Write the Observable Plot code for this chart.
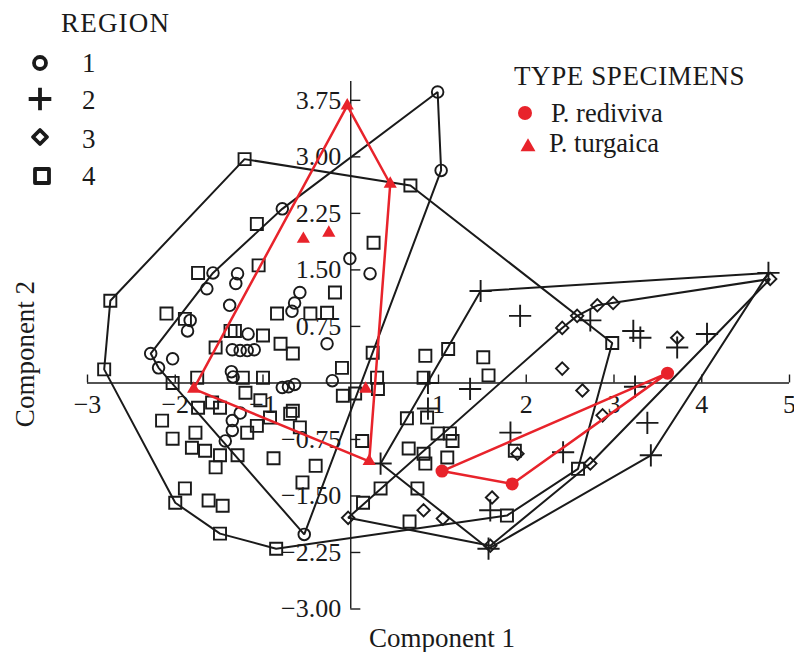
<!DOCTYPE html>
<html><head><meta charset="utf-8">
<script src="https://cdn.jsdelivr.net/npm/d3@7"></script>
<script src="https://cdn.jsdelivr.net/npm/@observablehq/plot@0.6"></script>
<style>
html,body{margin:0;padding:0;background:#fff;}
#wrap{position:relative;width:794px;height:652px;}
#overlay{position:absolute;left:0;top:0;pointer-events:none;}
</style></head><body>
<div id="wrap"></div>
<script>
// ---- data (Component 1, Component 2) ----
const region1 = [[0.99,3.86],[1.03,2.82],[-0.78,2.31],[-1.57,1.46],[-1.64,1.25],[-1.29,1.45],[-1.31,1.32],[-1.38,1.03],[-1.83,0.83],[-1.86,0.69],[-2.28,0.39],[-2.19,0.20],[-2.03,0.32],[-1.35,0.44],[-1.26,0.43],[-1.18,0.43],[-1.10,0.44],[-1.17,0.65],[-1.36,0.15],[-1.34,0.08],[-0.58,1.20],[-0.64,1.06],[-0.67,0.95],[-0.01,1.65],[0.22,1.45],[-0.27,0.52],[-0.21,0.03],[-0.78,-0.06],[-0.71,-0.05],[-0.64,-0.02],[-1.26,-0.40],[-1.35,-0.50],[-1.35,-0.63],[-1.43,-0.77],[-0.53,-2.01]];
const region2 = [[1.48,1.22],[4.76,1.46],[3.42,-0.96],[1.57,-2.20],[0.34,-1.07],[1.93,0.89],[2.73,0.83],[3.22,0.69],[3.30,0.60],[3.72,0.47],[4.06,0.65],[0.88,0.00],[1.36,-0.08],[3.24,-0.05],[0.88,-0.34],[1.82,-0.66],[2.42,-0.92],[3.38,-0.53],[1.59,-1.69]];
const region3 = [[-0.03,-1.79],[1.59,-2.16],[2.73,-1.07],[4.78,1.38],[2.99,1.06],[2.81,1.03],[2.58,0.89],[2.41,0.73],[2.41,0.19],[2.64,-0.10],[3.72,0.60],[2.87,-0.43],[1.90,-0.94],[1.61,-1.52],[0.83,-1.69],[1.05,-1.80]];
const region4 = [[-1.21,2.97],[0.68,2.62],[2.98,0.53],[2.59,-1.14],[1.78,-1.76],[0.67,-1.84],[-0.85,-2.20],[-1.49,-2.00],[-2.00,-1.59],[-2.81,0.18],[-2.74,1.09],
[-1.07,2.11],[-1.05,1.56],[-1.74,1.46],[-2.10,0.92],[-1.89,0.85],[-1.37,0.69],[-1.32,0.69],[-1.00,0.63],[-0.84,0.92],[-0.46,0.92],[-1.54,0.47],[-0.80,0.52],[-0.66,0.39],[-1.23,0.07],[-1.00,0.07],[-1.75,0.07],[-2.03,0.00],[-1.20,-0.13],[-1.03,-0.23],[-1.74,-0.33],[-1.49,-0.33],
[0.26,1.86],[-0.18,1.20],[-0.27,0.93],[0.25,0.40],[-0.10,0.20],[0.85,0.36],[1.11,0.45],[1.51,0.34],[1.57,0.10],[0.83,0.07],[0.30,0.07],[0.31,-0.08],[-0.09,-0.17],[0.05,-0.14],[-0.66,-0.37],[0.64,-0.47],[0.87,-0.46],[0.13,-0.77],[0.66,-0.87],[0.83,-0.94],[0.85,-1.07],[0.99,-0.67],[1.13,-0.67],[1.16,-0.77],[1.10,-0.99],[0.34,-1.40],[0.14,-1.59],[0.76,-1.40],[1.87,-0.90],
[-2.15,-0.50],[-2.03,-0.74],[-1.77,-0.66],[-1.81,-0.86],[-1.66,-0.90],[-1.49,-0.96],[-1.54,-1.12],[-1.29,-0.96],[-1.18,-0.66],[-1.07,-0.57],[-0.92,-0.46],[-0.69,-0.41],[-0.58,-0.59],[-0.88,-1.00],[-0.40,-1.10],[-0.55,-1.32],[-1.89,-1.40],[-1.62,-1.56],[-1.46,-1.63],[-1.58,-0.26]];
const rediviva = [[1.04,-1.17],[1.84,-1.34],[3.61,0.13]];
const turgaica = [[-0.04,3.68],[0.45,2.64],[0.21,-1.04],[-1.79,-0.08],[-0.54,1.91],[-0.25,1.99],[0.17,-0.08]];

const regionNames = ["1","2","3","4"];
const specimenNames = ["P. rediviva","P. turgaica"];
const xTicks = [-3,-2,-1,1,2,3,4,5];
const yTicks = [3.75,3.00,2.25,1.50,0.75,-0.75,-1.50,-2.25,-3.00];

// ---- build tables ----
const regionSets = [region1, region2, region3, region4];
const points = regionSets.flatMap((arr, i) => arr.map(([x, y]) => ({x, y, region: regionNames[i]})));
const specimens = [rediviva, turgaica].flatMap((arr, i) => arr.map(([x, y]) => ({x, y, type: specimenNames[i]})));

const INK = "#1a1a1a";
const RED = "#e8232b";
const FONT = "Liberation Serif, Times New Roman, serif";
const minus = "\u2212";
const fmtX = d => (d < 0 ? minus : "") + Math.abs(d);
const fmtY = d => (d < 0 ? minus : "") + Math.abs(d).toFixed(2);

const symStyle = {x: "x", y: "y", fill: "none", stroke: INK, strokeWidth: 1.9};
const byRegion = r => points.filter(d => d.region === r);

const chart = Plot.plot({
  width: 794, height: 652,
  marginLeft: 87, marginRight: 5, marginTop: 81, marginBottom: 43.5,
  x: {domain: [-3, 5], axis: null},
  y: {domain: [-3, 4], axis: null},
  style: {fontFamily: FONT, fontSize: "26px", color: INK, background: "transparent"},
  marks: [
    Plot.ruleY([0], {stroke: INK, strokeWidth: 1.4}),
    Plot.ruleX([0], {stroke: INK, strokeWidth: 1.4}),
    Plot.ruleX(xTicks, {x: d => d, y1: 0, y2: 0.105, stroke: INK, strokeWidth: 1.4}),
    Plot.ruleY(yTicks, {y: d => d, x1: 0, x2: 0.115, stroke: INK, strokeWidth: 1.4}),
    Plot.text(xTicks, {x: d => d, y: 0, text: fmtX, dy: 22, fontSize: 26, fill: INK}),
    Plot.text(yTicks, {x: 0, y: d => d, text: fmtY, textAnchor: "end", dx: -9.5, fontSize: 26, fill: INK}),
    Plot.hull(points, {x: "x", y: "y", z: "region", stroke: INK, strokeWidth: 2}),
    Plot.dot(byRegion("1"), {...symStyle, symbol: "circle", r: 5.8}),
    Plot.dot(byRegion("2"), {...symStyle, symbol: "plus", r: 7.2}),
    Plot.dot(byRegion("3"), {...symStyle, symbol: "diamond2", r: 5.6}),
    Plot.dot(byRegion("4"), {...symStyle, symbol: "square", r: 6.8}),
    Plot.hull(specimens, {x: "x", y: "y", z: "type", stroke: RED, strokeWidth: 2.5}),
    Plot.dot(specimens.filter(d => d.type === specimenNames[0]), {x: "x", y: "y", symbol: "circle", r: 6.5, fill: RED}),
    Plot.dot(specimens.filter(d => d.type === specimenNames[1]), {x: "x", y: "y", symbol: "triangle", r: 4.9, fill: RED})
  ]
});
document.getElementById("wrap").appendChild(chart);

// ---- legends & axis titles (overlay) ----
const ov = d3.select("#wrap").append("svg").attr("id", "overlay")
  .attr("width", 794).attr("height", 652)
  .style("font-family", FONT).style("fill", INK);

ov.append("text").attr("x", 61).attr("y", 31.5).attr("font-size", 27).attr("letter-spacing", 1.2).text("REGION");
const legSyms = [
  d3.symbol(d3.symbolCircle, Math.PI * 36),
  d3.symbol(d3.symbolPlus, 169),
  d3.symbol(d3.symbolDiamond2, 125),
  d3.symbol(d3.symbolSquare, 196)
];
const legY = [63, 99, 137, 176];
const legBase = [72, 108.5, 147.5, 185];
regionNames.forEach((name, i) => {
  ov.append("path").attr("d", legSyms[i]()).attr("transform", `translate(${i === 3 ? 42 : 40},${legY[i]})`)
    .attr("fill", "none").attr("stroke", INK).attr("stroke-width", 3.8).attr("stroke-linejoin", "round");
  ov.append("text").attr("x", 82).attr("y", legBase[i]).attr("font-size", 27).text(name);
});

ov.append("text").attr("x", 514).attr("y", 85).attr("font-size", 27).attr("letter-spacing", 0.6).text("TYPE SPECIMENS");
ov.append("path").attr("d", d3.symbol(d3.symbolCircle, Math.PI * 49)()).attr("transform", "translate(525,113)").attr("fill", RED);
ov.append("text").attr("x", 551).attr("y", 122).attr("font-size", 26.5).text(specimenNames[0]);
ov.append("path").attr("d", d3.symbol(d3.symbolTriangle, 97)()).attr("transform", "translate(528,147)").attr("fill", RED);
ov.append("text").attr("x", 549).attr("y", 152).attr("font-size", 26.5).text(specimenNames[1]);

ov.append("text").attr("x", 442).attr("y", 647).attr("font-size", 27).attr("text-anchor", "middle").text("Component 1");
ov.append("text").attr("transform", "translate(34,354) rotate(-90)").attr("font-size", 27).attr("text-anchor", "middle").text("Component 2");
</script>
</body></html>
